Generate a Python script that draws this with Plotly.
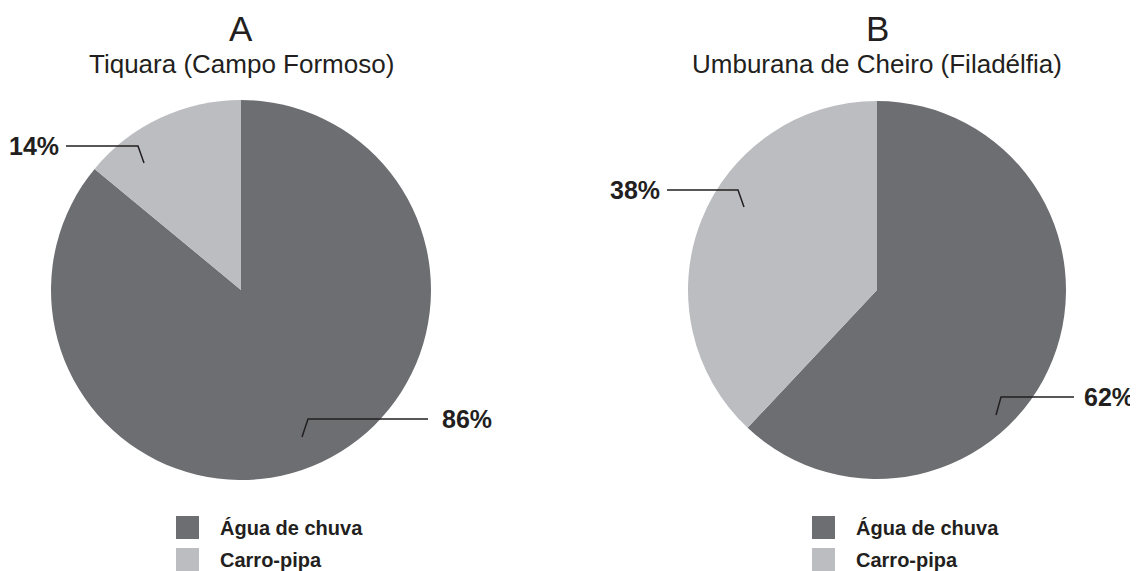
import plotly.graph_objects as go

W, H = 1138, 571
PAD = 8  # the page body margin shifts the figure by this many pixels

# data
categories = ["Água de chuva", "Carro-pipa"]
panel_letters = ["A", "B"]
sites = ["Tiquara (Campo Formoso)", "Umburana de Cheiro (Filadélfia)"]
tiquara_pct = [86, 14]
umburana_pct = [62, 38]

colors = ["#6d6e72", "#bcbdc1"]
text_color = "#231f20"
font_family = "Liberation Sans, Arial, sans-serif"

# pie geometry in screen pixels (center x, center y, radius)
pies = [(241, 290, 190), (877, 290, 189)]

# leader line offsets from the pie center, one per category:
# inner tick, elbow, end, label x, label anchor
leaders = [
    [((61, 147), (67, 129), (187, 129), 199, "left"),
     ((-97, -127), (-103, -144), (-175, -144), -180, "right")],
    [((119, 125), (124, 107), (197, 107), 205, "left"),
     ((-133, -83), (-139, -100), (-210, -100), -215, "right")],
]

fw, fh = W - PAD, H - PAD

fig = go.Figure()

for i, values in enumerate([tiquara_pct, umburana_pct]):
    cx, cy, r = pies[i]
    fig.add_trace(go.Pie(
        labels=categories,
        values=values,
        sort=False,
        direction="clockwise",
        rotation=0,
        textinfo="none",
        hoverinfo="label+percent",
        marker=dict(colors=colors, line=dict(width=0)),
        showlegend=False,
        domain=dict(x=[(cx - r - PAD) / fw, (cx + r - PAD) / fw],
                    y=[1 - (cy + r - PAD) / fh, 1 - (cy - r - PAD) / fh]),
    ))

    # titles
    fig.add_annotation(x=cx, y=28, text=panel_letters[i], showarrow=False,
                       font=dict(size=35, color=text_color), xanchor="center", yanchor="middle")
    fig.add_annotation(x=cx, y=64, text=sites[i], showarrow=False,
                       font=dict(size=26, color=text_color), xanchor="center", yanchor="middle")

    # percentage labels with leader lines
    for v, (p0, p1, p2, lx, anchor) in zip(values, leaders[i]):
        fig.add_shape(type="path",
                      path="M {} {} L {} {} L {} {}".format(cx + p0[0], cy + p0[1],
                                                           cx + p1[0], cy + p1[1],
                                                           cx + p2[0], cy + p2[1]),
                      line=dict(color=text_color, width=1.5), xref="x", yref="y")
        fig.add_annotation(x=cx + lx, y=cy + p2[1], text="<b>{}%</b>".format(v), showarrow=False,
                           font=dict(size=25, color=text_color), xanchor=anchor, yanchor="middle")

    # legend
    for k, cat in enumerate(categories):
        ly = 527.5 + 32 * k
        fig.add_shape(type="rect", x0=cx - 65, x1=cx - 42, y0=ly - 11.5, y1=ly + 11.5,
                      fillcolor=colors[k], line=dict(width=0), xref="x", yref="y")
        fig.add_annotation(x=cx - 23, y=ly, text="<b>{}</b>".format(cat), showarrow=False,
                           font=dict(size=20, color=text_color), xanchor="left", yanchor="middle")

fig.update_layout(
    width=fw, height=fh,
    margin=dict(l=0, r=0, t=0, b=0),
    paper_bgcolor="white", plot_bgcolor="rgba(0,0,0,0)",
    font=dict(family=font_family, color=text_color),
    xaxis=dict(range=[PAD, W], visible=False, fixedrange=True, domain=[0, 1]),
    yaxis=dict(range=[H, PAD], visible=False, fixedrange=True, domain=[0, 1]),
    showlegend=False,
)

fig.write_html("out.html")
